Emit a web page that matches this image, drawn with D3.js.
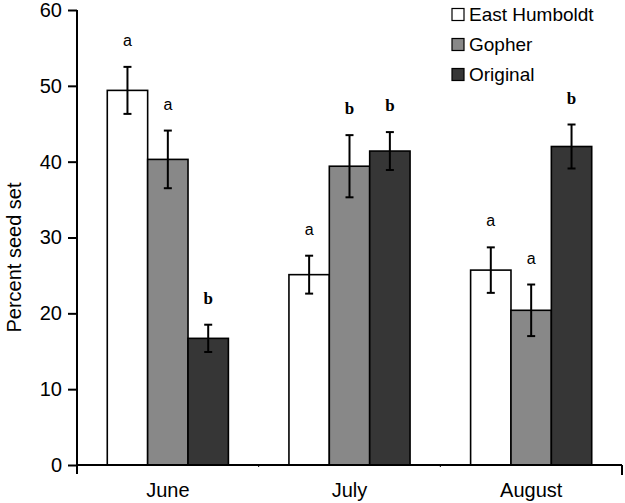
<!DOCTYPE html>
<html>
<head>
<meta charset="utf-8">
<script src="https://cdn.jsdelivr.net/npm/d3@7/dist/d3.min.js"></script>
<style>
  body { margin: 0; background: #fff; }
  svg { display: block; }
</style>
</head>
<body>
<script>
// data
const months = ['June', 'July', 'August'];
const seriesNames = ['East Humboldt', 'Gopher', 'Original'];
const eastHumboldt = [49.4, 25.1, 25.7];
const gopher = [40.3, 39.4, 20.4];
const original = [16.7, 41.4, 42.0];
const eastHumboldtErr = [3.1, 2.5, 3.0];
const gopherErr = [3.8, 4.1, 3.4];
const originalErr = [1.8, 2.5, 2.9];
const eastHumboldtLetters = ['a', 'a', 'a'];
const gopherLetters = ['a', 'b', 'a'];
const originalLetters = ['b', 'b', 'b'];
const yTicks = [0, 10, 20, 30, 40, 50, 60];

const fills = ['#ffffff', '#888888', '#363636'];
const sansFont = '"Liberation Sans", Arial, sans-serif';
const serifFont = '"Liberation Serif", "Times New Roman", serif';

const values = [eastHumboldt, gopher, original];
const errs = [eastHumboldtErr, gopherErr, originalErr];
const letters = [eastHumboldtLetters, gopherLetters, originalLetters];

const rows = [];
months.forEach((m, i) => {
    seriesNames.forEach((s, j) => {
        rows.push({ month: m, series: s, idx: j, value: values[j][i], err: errs[j][i], letter: letters[j][i] });
    });
});

const W = 625, H = 503;
const margin = { top: 10, right: 3, bottom: 38, left: 77 };

const svg = d3.select('body').append('svg')
    .attr('width', W)
    .attr('height', H);

svg.append('rect').attr('width', W).attr('height', H).attr('fill', 'white');

const x = d3.scaleBand()
    .domain(months)
    .range([margin.left, W - margin.right])
    .paddingInner(0)
    .paddingOuter(0);

const bw = x.bandwidth();
const xSub = d3.scaleBand()
    .domain(seriesNames)
    .range([bw / 6, bw * 5 / 6]);

const y = d3.scaleLinear()
    .domain([0, 60])
    .range([H - margin.bottom, margin.top]);

// bars
svg.append('g')
    .selectAll('rect')
    .data(rows)
    .join('rect')
    .attr('x', d => x(d.month) + xSub(d.series))
    .attr('y', d => y(d.value))
    .attr('width', xSub.bandwidth())
    .attr('height', d => y(0) - y(d.value))
    .attr('fill', d => fills[d.idx])
    .attr('stroke', '#000')
    .attr('stroke-width', 1.6);

// error bars
const eg = svg.append('g').attr('stroke', '#000').attr('stroke-width', 2);
rows.forEach(d => {
    const cx = x(d.month) + xSub(d.series) + xSub.bandwidth() / 2;
    const y1 = y(d.value + d.err), y2 = y(d.value - d.err);
    eg.append('line').attr('x1', cx).attr('x2', cx).attr('y1', y1).attr('y2', y2);
    eg.append('line').attr('x1', cx - 4).attr('x2', cx + 4).attr('y1', y1).attr('y2', y1);
    eg.append('line').attr('x1', cx - 4).attr('x2', cx + 4).attr('y1', y2).attr('y2', y2);
});

// significance letters
svg.append('g')
    .selectAll('text')
    .data(rows)
    .join('text')
    .attr('x', d => x(d.month) + xSub(d.series) + xSub.bandwidth() / 2)
    .attr('y', d => y(d.value + d.err) - 21)
    .attr('text-anchor', 'middle')
    .style('font-family', d => d.letter === 'b' ? serifFont : sansFont)
    .style('font-weight', d => d.letter === 'b' ? 'bold' : 'normal')
    .style('font-size', d => d.letter === 'b' ? '17px' : '16px')
    .text(d => d.letter);

// y axis
const yAxis = svg.append('g')
    .attr('transform', `translate(${margin.left},0)`)
    .call(d3.axisLeft(y).tickValues(yTicks).tickSize(9).tickPadding(6).tickSizeOuter(0));
yAxis.select('.domain').attr('stroke-width', 2).attr('d', `M0,${y(60)}V${y(0) + 9}`);
yAxis.selectAll('.tick line').attr('stroke-width', 2);
yAxis.selectAll('.tick text')
    .style('font-family', sansFont)
    .style('font-size', '20px')
    .attr('fill', '#000');

// x axis
const xAxis = svg.append('g')
    .attr('transform', `translate(0,${y(0)})`)
    .call(d3.axisBottom(x).tickSize(0).tickPadding(18));
xAxis.select('.domain').attr('stroke-width', 2).attr('d', `M${margin.left},0H${W - margin.right}`);
xAxis.selectAll('.tick text')
    .style('font-family', sansFont)
    .style('font-size', '20px')
    .attr('fill', '#000');

// category boundary ticks
const bounds = months.map(m => x(m) + bw);
svg.append('g')
    .selectAll('line')
    .data(bounds)
    .join('line')
    .attr('x1', d => d).attr('x2', d => d)
    .attr('y1', y(0))
    .attr('y2', (d, i) => y(0) + (i === bounds.length - 1 ? 10 : 2))
    .attr('stroke', '#000')
    .attr('stroke-width', (d, i) => i === bounds.length - 1 ? 2 : 1);

// y axis title
svg.append('text')
    .attr('transform', `translate(21,${(y(0) + y(60)) / 2 + 20}) rotate(-90)`)
    .attr('text-anchor', 'middle')
    .style('font-family', sansFont)
    .style('font-size', '20px')
    .text('Percent seed set');

// legend
const legend = svg.append('g').attr('transform', 'translate(452,0)');
seriesNames.forEach((s, i) => {
    const ly = 14.5 + i * 30;
    legend.append('rect')
        .attr('x', 0).attr('y', ly - 6)
        .attr('width', 12).attr('height', 12)
        .attr('fill', fills[i])
        .attr('stroke', '#000')
        .attr('stroke-width', 1.2);
    legend.append('text')
        .attr('x', 17).attr('y', ly)
        .attr('dy', '0.35em')
        .style('font-family', sansFont)
        .style('font-size', '19px')
        .text(s);
});
</script>
</body>
</html>
